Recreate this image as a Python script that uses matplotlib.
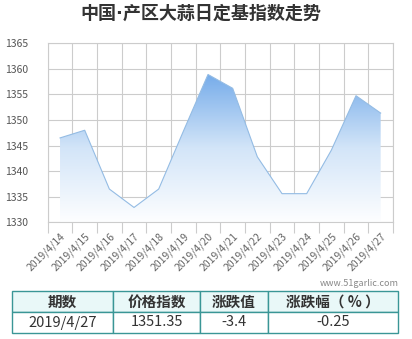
# coding: utf-8

import numpy as np
import matplotlib
matplotlib.use("Agg")
import matplotlib.pyplot as plt
from matplotlib.colors import LinearSegmentedColormap

plt.rcParams['font.family'] = ['Noto Sans CJK SC', 'DejaVu Sans']

# chart data
dates = ['2019/4/14', '2019/4/15', '2019/4/16', '2019/4/17', '2019/4/18',
         '2019/4/19', '2019/4/20', '2019/4/21', '2019/4/22', '2019/4/23',
         '2019/4/24', '2019/4/25', '2019/4/26', '2019/4/27']
index_values = [1346.5, 1348.0, 1336.5, 1332.9, 1336.5,
                1347.8, 1358.9, 1356.2, 1342.8, 1335.6,
                1335.6, 1344.1, 1354.75, 1351.35]
y_ticks = [1330, 1335, 1340, 1345, 1350, 1355, 1360, 1365]

# table data
table_header = ['期数', '价格指数', '涨跌值', '涨跌幅（ % ）']
table_row = ['2019/4/27', '1351.35', '-3.4', '-0.25']

title = '中国·产区大蒜日定基指数走势'
watermark = 'www.51garlic.com'

W, H = 412, 339
fig = plt.figure(figsize=(W / 100, H / 100), dpi=100)
fig.patch.set_facecolor('white')

ax = fig.add_axes([47.7 / W, 1 - 222.3 / H, (393 - 47.7) / W, (222.3 - 43.3) / H])
x = np.arange(len(dates))

# gradient fill under the line
poly = ax.fill_between(x, index_values, 1330, facecolor='none', edgecolor='none')
cmap = LinearSegmentedColormap.from_list('g', ['#fdfeff', '#d3e5f8', '#76acea'])
grad = np.linspace(0, 1, 256).reshape(-1, 1)
im = ax.imshow(grad, cmap=cmap, origin='lower', aspect='auto',
               extent=[-0.5, 13.5, 1330, max(index_values)], zorder=2)
im.set_clip_path(poly.get_paths()[0], transform=ax.transData)
ax.plot(x, index_values, color='#94bce4', linewidth=0.8, zorder=3)

ax.set_xlim(-0.5, len(dates) - 0.5)
ax.set_ylim(1330, 1365)
ax.set_yticks(y_ticks)
ax.set_yticklabels([str(v) for v in y_ticks])
ax.set_xticks(x)
ax.set_xticklabels(dates, rotation=45, ha='right', va='top', rotation_mode='anchor')
ax.set_xticks(np.arange(-0.5, len(dates)), minor=True)

ax.tick_params(axis='y', length=0, pad=14, labelsize=7.5, labelcolor='#555555')
ax.tick_params(axis='x', which='major', length=0, pad=6, labelsize=7.5, labelcolor='#666666')
ax.tick_params(axis='x', which='minor', length=8, color='#cccccc', width=0.8)

ax.grid(True, which='minor', axis='x', color='#cccccc', linewidth=0.8)
ax.grid(True, which='major', axis='y', color='#cccccc', linewidth=0.8)
ax.set_axisbelow(True)
for s in ax.spines.values():
    s.set_color('#cccccc')
    s.set_linewidth(0.8)

fig.text(201 / W, 1 - 14 / H, title, ha='center', va='center',
         fontsize=13, fontweight='bold', color='#333333',
         family=['DejaVu Sans', 'Noto Sans CJK SC'])
fig.text(399 / W, 1 - 283 / H, watermark, ha='right', va='center',
         fontsize=6.5, color='#888888')

# table under the chart
tax = fig.add_axes([12 / W, 1 - 333 / H, 386 / W, 42 / H])
tax.axis('off')
col_w = np.array([101, 87, 68, 130]) / 386
tbl = tax.table(cellText=[table_row], colLabels=table_header, colWidths=col_w,
                cellLoc='center', bbox=[0, 0, 1, 1])
tbl.auto_set_font_size(False)
for (r, c), cell in tbl.get_celld().items():
    cell.set_edgecolor('#3a9696')
    cell.set_linewidth(1.0)
    cell.get_text().set_fontsize(10.5)
    cell.get_text().set_color('#333333')
    if r == 0:
        cell.set_facecolor('#e9f8f8')
        cell.get_text().set_fontweight('bold')
    else:
        cell.set_facecolor('white')

fig.savefig('out.png', dpi=100)
